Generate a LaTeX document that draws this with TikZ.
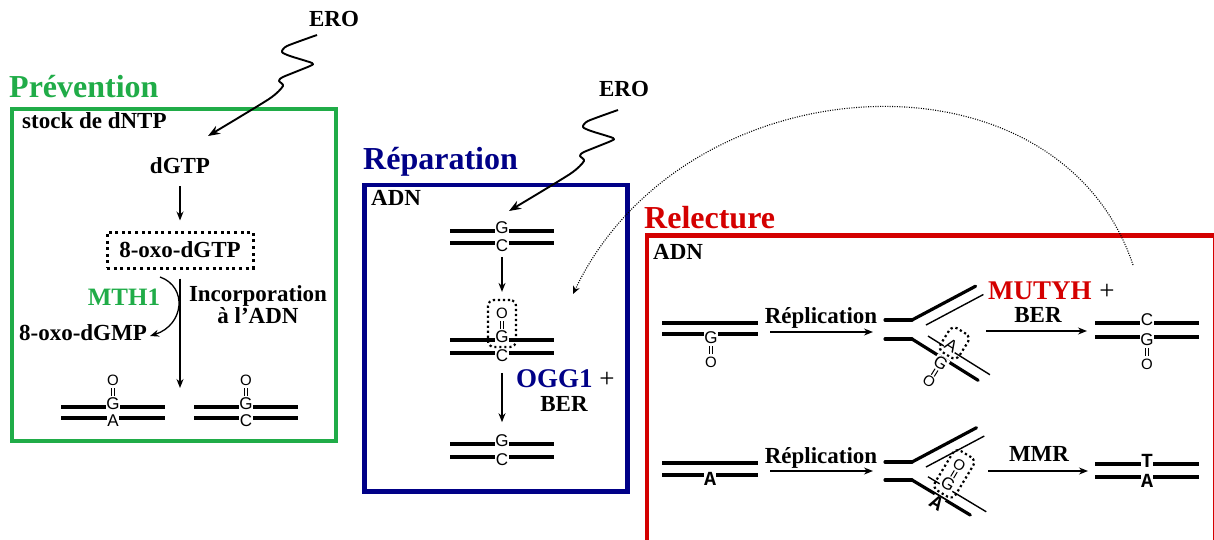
\documentclass[tikz,border=0pt]{standalone}
\usepackage{fontspec}
\setmainfont{Liberation Serif}
\newfontfamily\dnaf{Liberation Sans}
\newfontfamily\courf{Liberation Mono}
\usetikzlibrary{arrows.meta}
\definecolor{pgreen}{RGB}{32,172,72}
\definecolor{pblue}{RGB}{0,0,135}
\definecolor{pred}{RGB}{212,0,0}
\tikzset{
  txt/.style={font=\fontsize{23}{20}\selectfont\bfseries, inner sep=0pt},
  ttl/.style={font=\fontsize{32}{36}\selectfont\bfseries, inner sep=0pt, anchor=base west},
  enz/.style={font=\fontsize{27}{30}\selectfont\bfseries, inner sep=0pt},
  bltr/.style={font=\dnaf\fontsize{17}{17}\selectfont, inner sep=0.6pt, fill=white},
  cltr/.style={font=\courf\bfseries\fontsize{20}{20}\selectfont, inner sep=0.2pt, fill=white},
  oxy/.style={font=\dnaf\fontsize{15}{15}\selectfont, inner sep=0pt},
  bond/.style={line width=1pt},
  strand/.style={line width=3.2pt},
  thinstrand/.style={line width=1.4pt},
  arr/.style={line width=1.3pt, -{Stealth[length=9pt,width=7pt]}},
  boxline/.style={line width=4.5pt},
  dotbox/.style={draw, line width=3pt, dash pattern=on 3pt off 3.6pt},
  smalldot/.style={draw, line width=2.2pt, dash pattern=on 2.2pt off 2.8pt, rounded corners=6pt},
  squig/.style={line width=1.9pt, line join=round, -{Stealth[length=12pt,width=9pt]}},
  dotline/.style={line width=1.1pt, dash pattern=on 1pt off 1.4pt, -{Stealth[length=8pt,width=7pt]}},
}
\newcommand\twolines[4]{%
  \draw[strand] ({#1-#4},#2) -- ({#1+#4},#2);
  \draw[strand] ({#1-#4},#3) -- ({#1+#4},#3);}
\newcommand\upox[3]{%
  \draw[bond] ({#2-1.7},{#3-8}) -- ({#2-1.7},{#3-16}) ({#2+1.7},{#3-8}) -- ({#2+1.7},{#3-16});
  \node[oxy] (#1) at (#2,{#3-24}) {O};}
\newcommand\downox[3]{%
  \draw[bond] ({#2-1.7},{#3+8}) -- ({#2-1.7},{#3+16}) ({#2+1.7},{#3+8}) -- ({#2+1.7},{#3+16});
  \node[oxy] (#1) at (#2,{#3+24}) {O};}
\newcommand\squiggle{%
  \draw[squig] plot[smooth, tension=0.4] coordinates {(0,0) (-30,11) (-35,17) (-27,21) (-5,28) (-7,31) (-34,42) (-38,46) (-34,51) (-48,64) (-109,101)};}
\begin{document}
\begin{tikzpicture}[x=1pt,y=-1pt]
\useasboundingbox (0,0) rectangle (1214,540);
% frames
\draw[boxline, pgreen] (12,109) rectangle (336,441);
\draw[boxline, pblue] (364.5,185) rectangle (627.5,491.5);
\draw[boxline, pred] (647,235.5) rectangle (1215,543);
% titles
\node[ttl, text=pgreen] (tprev) at (9,98) {Prévention};
\node[ttl, text=pblue] (trep) at (363,170) {Réparation};
\node[ttl, text=pred] (trel) at (644,228) {Relecture};

% dotted feedback curve
\coordinate (dotS) at (1133,265);
\coordinate (dotE) at (573,294);
\draw[dotline] (dotS) .. controls (1058,40) and (685,60) .. (dotE);

% ===== Prevention =====
\node[txt, anchor=base] (ero1) at (334,27) {ERO};
\begin{scope}[shift={(317,35)}]
\squiggle
\end{scope}
\node[txt, anchor=base west] (stock) at (22,129) {stock de dNTP};
\node[txt, anchor=base] (dgtp) at (180,174) {dGTP};
\node[txt, dotbox, minimum width=146pt, minimum height=36pt] (oxo) at (180,250) {8-oxo-dGTP};
\draw[arr, shorten <=12pt, shorten >=10pt] (dgtp.south) -- (oxo.north);
\coordinate (incE) at (180,388);
\draw[arr, shorten <=9pt] (oxo.south) -- (incE);
\coordinate (mthS) at (160,277);
\coordinate (mthE) at (150,336);
\draw[arr] (mthS) .. controls (188,287) and (184,325) .. (mthE);
\node[font=\fontsize{25}{28}\selectfont\bfseries, inner sep=0pt, text=pgreen, anchor=base] (mth) at (124,305) {MTH1};
\node[txt, anchor=base] (dgmp) at (83,340) {8-oxo-dGMP};
\node[txt, align=center, anchor=base] (incorp) at (258,323) {Incorporation\\à l'ADN};
\twolines{113}{407}{418}{52}
\node[bltr] (pat) at (113,404) {G};
\node[bltr] (pab) at (113,421) {A};
\upox{pao}{113}{404}
\twolines{246}{407}{418}{52}
\node[bltr] (pbt) at (246,404) {G};
\node[bltr] (pbb) at (246,421) {C};
\upox{pbo}{246}{404}

% ===== Reparation =====
\node[txt, anchor=base west] (adn2) at (371,205) {ADN};
\node[txt, anchor=base] (ero2) at (624,97) {ERO};
\begin{scope}[shift={(618,110)}]
\squiggle
\end{scope}
\twolines{502}{231}{243}{52}
\node[bltr] (p1t) at (502,228) {G};
\node[bltr] (p1b) at (502,246) {C};
\twolines{502}{340}{353}{52}
\node[bltr] (p2t) at (502,337) {G};
\node[bltr] (p2b) at (502,356) {C};
\upox{p2o}{502}{337}
\node[smalldot, minimum width=28pt, minimum height=47pt] (p2d) at (502,323.5) {};
\twolines{502}{444}{457}{52}
\node[bltr] (p3t) at (502,441) {G};
\node[bltr] (p3b) at (502,460) {C};
\draw[arr, shorten <=4pt, shorten >=7pt] (p1b.south) -- (p2d.north);
\draw[arr, shorten <=10pt, shorten >=12pt] (p2b.south) -- (p3t.north);
\node[enz, text=pblue, anchor=base west] (ogg) at (516,387) {OGG1};
\node[font=\fontsize{27}{30}\selectfont, inner sep=0pt, anchor=base] (plus1) at (607,387) {+};
\node[txt, anchor=base] (ber1) at (564,411) {BER};

% ===== Relecture =====
\node[txt, anchor=base west] (adn3) at (653,259) {ADN};
% row 1
\draw[strand] (662,323) -- (758,323);
\draw[strand] (662,334) -- (758,334);
\node[bltr] (r1g) at (711,338) {G};
\downox{r1o}{711}{338}
\coordinate (r1as) at (770,332);
\coordinate (r1ae) at (873,332);
\draw[arr] (r1as) -- (r1ae);
\node[txt, anchor=base] (rep1) at (821,323) {Réplication};
% fork 1
\draw[strand, line cap=round] (885,320) -- (912,320);
\draw[strand, line cap=round] (885,339) -- (912,339);
\begin{scope}[shift={(912,320)}, rotate=28]
  \draw[strand, line cap=round] (0,0) -- (72,0);
  \draw[thinstrand] (10,11) -- (75,11);
\end{scope}
\begin{scope}[shift={(912,339)}, rotate=-32, transform shape]
  \draw[strand, line cap=round] (0,0) -- (78,0);
  \draw[thinstrand] (12,-11) -- (85,-11);
  \node[bltr] (f1g) at (37,5) {G};
  \node[bltr] (f1a) at (37,-15) {A};
  \draw[bond] (35.3,13) -- (35.3,20) (38.7,13) -- (38.7,20);
  \node[oxy] (f1o) at (37,27) {O};
  \node[smalldot, minimum width=22pt, minimum height=28pt] (f1d) at (38,-19) {};
\end{scope}
\node[enz, text=pred, anchor=base west] (mutyh) at (988,299) {MUTYH};
\node[font=\fontsize{27}{30}\selectfont, inner sep=0pt, anchor=base] (plus2) at (1107,299) {+};
\node[txt, anchor=base] (ber2) at (1038,322) {BER};
\coordinate (m1s) at (986,331);
\coordinate (m1e) at (1087,331);
\draw[arr] (m1s) -- (m1e);
\twolines{1147}{323}{337}{52}
\node[bltr] (r1c) at (1147,320) {C};
\node[bltr] (r1g2) at (1147,340) {G};
\downox{r1o2}{1147}{340}
% row 2
\draw[strand] (662,463) -- (758,463);
\draw[strand] (662,475) -- (758,475);
\node[cltr] (r2a) at (710,479) {A};
\coordinate (r2as) at (770,471);
\coordinate (r2ae) at (873,471);
\draw[arr] (r2as) -- (r2ae);
\node[txt, anchor=base] (rep2) at (821,463) {Réplication};
% fork 2
\draw[strand, line cap=round] (885,462) -- (912,462);
\draw[strand, line cap=round] (885,480) -- (912,480);
\begin{scope}[shift={(912,462)}, rotate=28]
  \draw[strand, line cap=round] (0,0) -- (73,0);
  \draw[thinstrand] (10,11) -- (76,11);
\end{scope}
\begin{scope}[shift={(912,480)}, rotate=-31, transform shape]
  \draw[strand, line cap=round] (0,0) -- (68,0);
  \draw[thinstrand] (12,-11) -- (80,-11);
  \node[cltr] (f2a) at (33,7) {A};
  \node[bltr] (f2g) at (33,-15) {G};
  \draw[bond] (31.3,-23) -- (31.3,-30) (34.7,-23) -- (34.7,-30);
  \node[oxy] (f2o) at (33,-37) {O};
  \node[smalldot, minimum width=24pt, minimum height=46pt] (f2d) at (33,-27) {};
\end{scope}
\node[txt, anchor=base] (mmr) at (1039,461) {MMR};
\coordinate (m2s) at (988,471);
\coordinate (m2e) at (1088,471);
\draw[arr] (m2s) -- (m2e);
\twolines{1147}{464}{477}{52}
\node[cltr] (r2t) at (1147,461) {T};
\node[cltr] (r2a2) at (1147,481) {A};
\end{tikzpicture}
\end{document}
